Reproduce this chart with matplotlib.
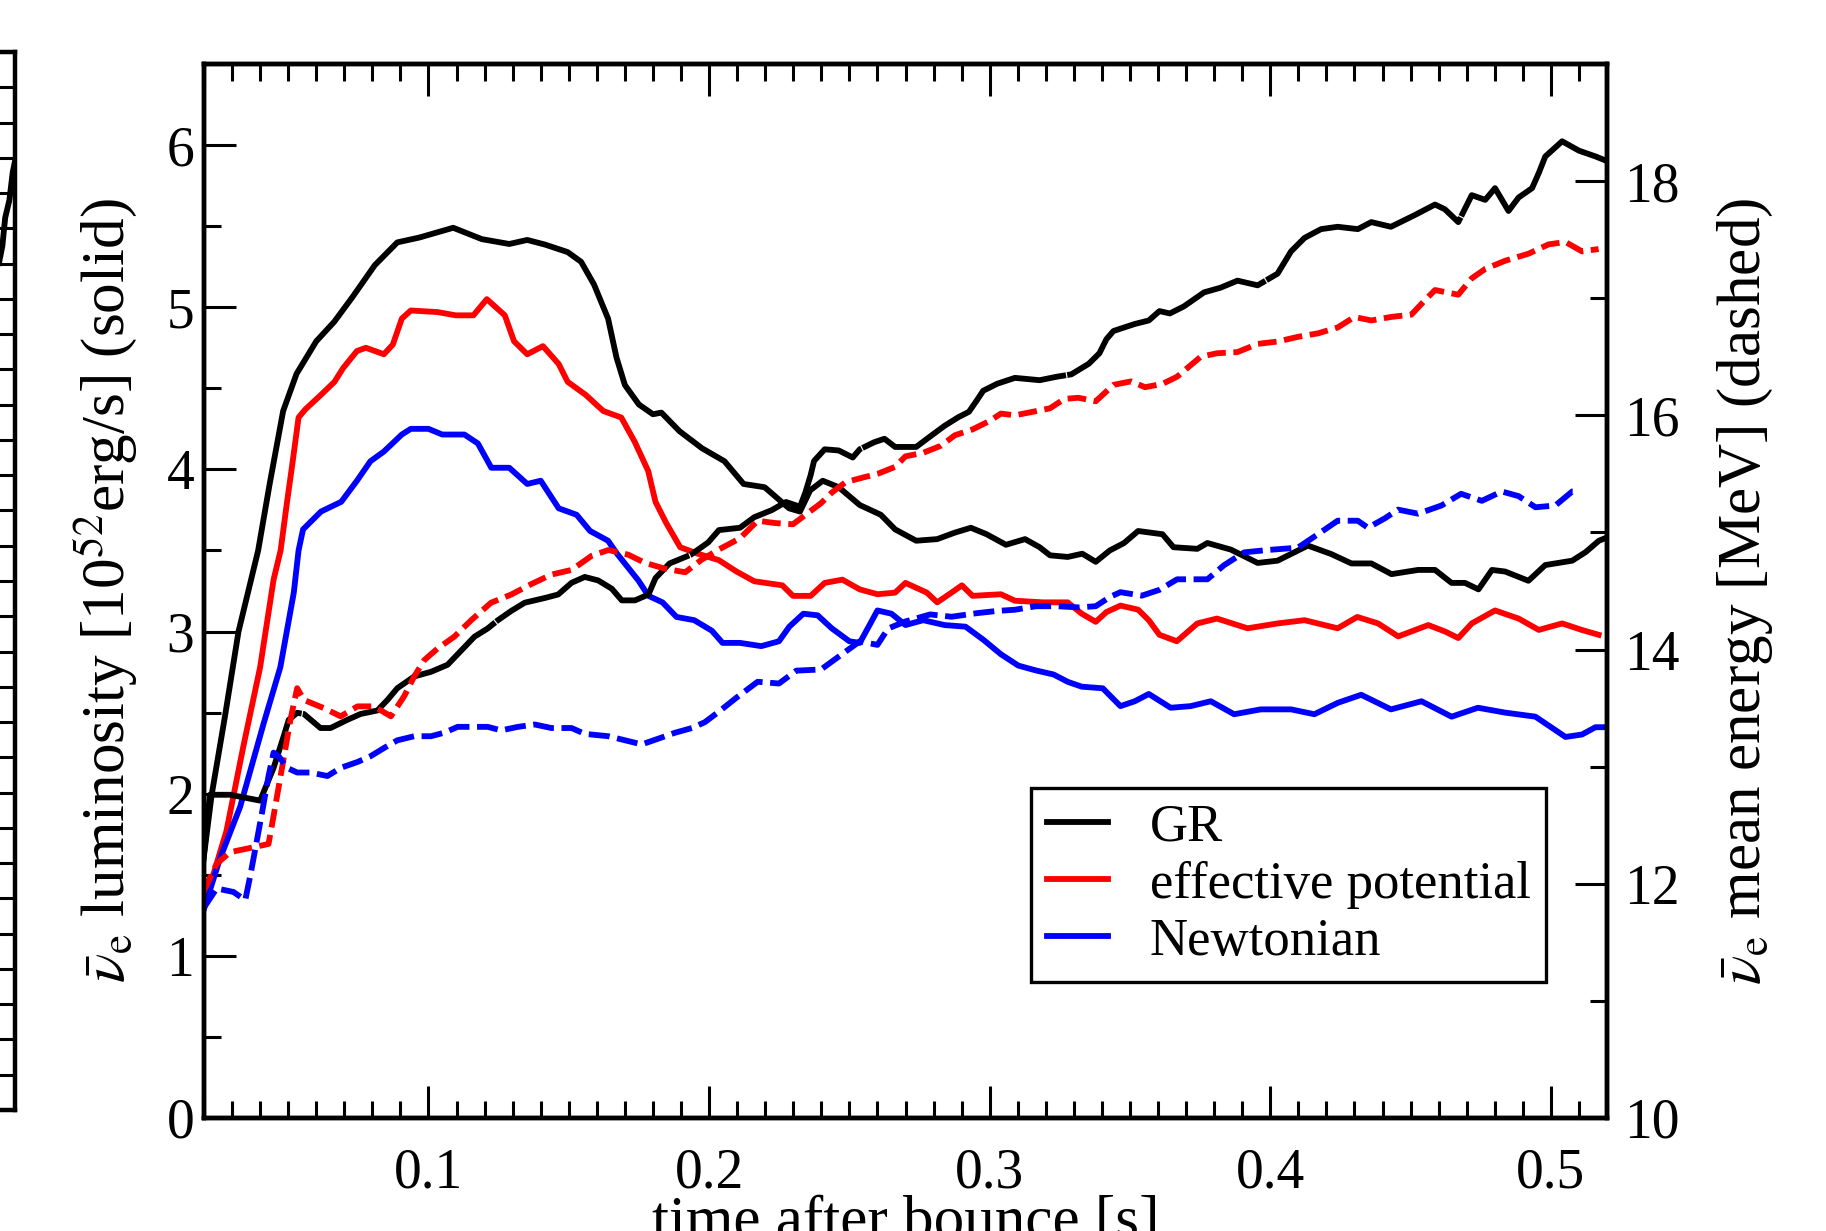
import numpy as np
import matplotlib
matplotlib.use("Agg")
import matplotlib.pyplot as plt
from matplotlib.ticker import MultipleLocator
from matplotlib.lines import Line2D

plt.rcParams['font.family'] = 'serif'
plt.rcParams['font.serif'] = ['Liberation Serif', 'DejaVu Serif']
plt.rcParams['mathtext.fontset'] = 'stix'

# --- GR run -------------------------------------------------------------
gr_lum_t = [0.0195, 0.0227, 0.0275, 0.0323, 0.0393, 0.0434, 0.0482, 0.0530, 0.0600, 0.0664,
            0.0728, 0.0809, 0.0889, 0.0968, 0.1088, 0.1190, 0.1288, 0.1352, 0.1416, 0.1496,
            0.1544, 0.1590, 0.1640, 0.1670, 0.1700, 0.1750, 0.1800, 0.1830, 0.1895, 0.1975,
            0.2055, 0.2123, 0.2198, 0.2285, 0.2324, 0.2360, 0.2405, 0.2462, 0.2537, 0.2612,
            0.2663, 0.2738, 0.2813, 0.2876, 0.2933, 0.2989, 0.3058, 0.3126, 0.3178, 0.3215,
            0.3278, 0.3330, 0.3378, 0.3428, 0.3479, 0.3529, 0.3616, 0.3655, 0.3740, 0.3776,
            0.3860, 0.3955, 0.4026, 0.4134, 0.4217, 0.4289, 0.4360, 0.4432, 0.4527, 0.4587,
            0.4646, 0.4694, 0.4742, 0.4790, 0.4837, 0.4920, 0.4980, 0.5076, 0.5124, 0.5171,
            0.5200]
gr_lum = [1.55, 1.99, 2.48, 3.00, 3.50, 3.91, 4.36, 4.59, 4.79, 4.91,
          5.06, 5.26, 5.40, 5.43, 5.49, 5.42, 5.39, 5.415, 5.386, 5.34,
          5.28, 5.14, 4.93, 4.69, 4.52, 4.40, 4.34, 4.35, 4.235, 4.13,
          4.05, 3.91, 3.89, 3.76, 3.74, 3.87, 3.93, 3.89, 3.78, 3.72,
          3.63, 3.56, 3.57, 3.61, 3.64, 3.60, 3.535, 3.57, 3.52, 3.47,
          3.46, 3.48, 3.43, 3.50, 3.546, 3.62, 3.60, 3.52, 3.51, 3.546,
          3.505, 3.423, 3.437, 3.53, 3.478, 3.42, 3.42, 3.354, 3.38, 3.38,
          3.30, 3.30, 3.26, 3.38, 3.37, 3.313, 3.41, 3.437, 3.49, 3.56,
          3.58]

gr_e_t = [0.0192, 0.0221, 0.0293, 0.0400, 0.0448, 0.0484, 0.0502, 0.0532, 0.0556, 0.0615,
          0.0651, 0.0711, 0.0758, 0.0818, 0.0854, 0.0889, 0.0949, 0.1009, 0.1068, 0.1116,
          0.1164, 0.1211, 0.1247, 0.1295, 0.1343, 0.1414, 0.1462, 0.1510, 0.1557, 0.1605,
          0.1653, 0.1689, 0.1736, 0.1784, 0.1809, 0.1859, 0.1935, 0.1997, 0.2035, 0.2110,
          0.2161, 0.2223, 0.2274, 0.2324, 0.2343, 0.2362, 0.2374, 0.2412, 0.2462, 0.2512,
          0.2537, 0.2588, 0.2625, 0.2663, 0.2738, 0.2788, 0.2839, 0.2889, 0.2926, 0.2952,
          0.2977, 0.3027, 0.3090, 0.3178, 0.3240, 0.3291, 0.3353, 0.3391, 0.3416, 0.3441,
          0.3517, 0.3567, 0.3605, 0.3642, 0.3692, 0.3764, 0.3823, 0.3883, 0.3955, 0.4026,
          0.4074, 0.4122, 0.4181, 0.4240, 0.4312, 0.4360, 0.4430, 0.4515, 0.4587, 0.4622,
          0.4670, 0.4718, 0.4766, 0.4801, 0.4849, 0.4885, 0.4933, 0.4957, 0.4980, 0.5040,
          0.5100, 0.5160, 0.5201]
gr_e = [12.07, 12.76, 12.76, 12.71, 12.99, 13.26, 13.40, 13.46, 13.45, 13.33,
        13.33, 13.40, 13.45, 13.48, 13.57, 13.67, 13.77, 13.81, 13.87, 13.99,
        14.11, 14.18, 14.25, 14.33, 14.40, 14.44, 14.47, 14.57, 14.62, 14.59,
        14.52, 14.42, 14.42, 14.47, 14.61, 14.735, 14.81, 14.915, 15.02, 15.04,
        15.13, 15.19, 15.26, 15.22, 15.34, 15.49, 15.61, 15.71, 15.70, 15.64,
        15.71, 15.77, 15.80, 15.73, 15.73, 15.82, 15.91, 15.985, 16.03, 16.12,
        16.21, 16.27, 16.32, 16.30, 16.33, 16.35, 16.44, 16.53, 16.65, 16.72,
        16.78, 16.81, 16.89, 16.87, 16.93, 17.05, 17.09, 17.15, 17.11, 17.21,
        17.40, 17.515, 17.59, 17.61, 17.59, 17.65, 17.61, 17.71, 17.80, 17.76,
        17.65, 17.88, 17.84, 17.94, 17.745, 17.86, 17.94, 18.07, 18.21, 18.34,
        18.26, 18.21, 18.17]

# --- effective potential run --------------------------------------------
ep_lum_t = [0.0198, 0.0233, 0.0280, 0.0340, 0.0400, 0.0448, 0.0473, 0.0496, 0.0513, 0.0537,
            0.0561, 0.0617, 0.0665, 0.0696, 0.0745, 0.0777, 0.0841, 0.0873, 0.0905, 0.0937,
            0.1033, 0.1097, 0.1160, 0.1208, 0.1272, 0.1305, 0.1352, 0.1408, 0.1464, 0.1496,
            0.1560, 0.1623, 0.1687, 0.1735, 0.1783, 0.1809, 0.1847, 0.1897, 0.1960, 0.2035,
            0.2098, 0.2161, 0.2261, 0.2299, 0.2362, 0.2412, 0.2475, 0.2537, 0.2600, 0.2663,
            0.2700, 0.2776, 0.2813, 0.2864, 0.2901, 0.2939, 0.3040, 0.3090, 0.3190, 0.3278,
            0.3328, 0.3378, 0.3416, 0.3466, 0.3529, 0.3567, 0.3605, 0.3667, 0.3740, 0.3810,
            0.3919, 0.4026, 0.4122, 0.4240, 0.4310, 0.4384, 0.4456, 0.4563, 0.4623, 0.4670,
            0.4718, 0.4801, 0.4885, 0.4957, 0.5040, 0.5110, 0.5170]
ep_lum = [1.43, 1.50, 1.77, 2.29, 2.78, 3.32, 3.50, 3.80, 4.01, 4.32,
          4.37, 4.46, 4.54, 4.625, 4.73, 4.75, 4.71, 4.77, 4.93, 4.98,
          4.97, 4.95, 4.95, 5.05, 4.95, 4.79, 4.71, 4.76, 4.65, 4.54,
          4.46, 4.36, 4.32, 4.17, 3.99, 3.80, 3.67, 3.52, 3.48, 3.44,
          3.37, 3.31, 3.285, 3.22, 3.22, 3.30, 3.32, 3.26, 3.23, 3.24,
          3.30, 3.24, 3.18, 3.24, 3.285, 3.22, 3.23, 3.19, 3.18, 3.18,
          3.11, 3.06, 3.12, 3.16, 3.135, 3.07, 2.98, 2.94, 3.05, 3.08,
          3.02, 3.05, 3.07, 3.02, 3.09, 3.05, 2.97, 3.04, 3.00, 2.96,
          3.05, 3.13, 3.08, 3.01, 3.05, 3.01, 2.98]

ep_e_t = [0.0198, 0.0245, 0.0293, 0.0353, 0.0430, 0.0448, 0.0478, 0.0508, 0.0532, 0.0556,
          0.0627, 0.0687, 0.0747, 0.0806, 0.0866, 0.0913, 0.0949, 0.0985, 0.1033, 0.1092,
          0.1152, 0.1223, 0.1295, 0.1367, 0.1438, 0.1510, 0.1581, 0.1641, 0.1712, 0.1772,
          0.1844, 0.1915, 0.1972, 0.2035, 0.2110, 0.2173, 0.2236, 0.2299, 0.2349, 0.2399,
          0.2437, 0.2487, 0.2550, 0.2600, 0.2663, 0.2700, 0.2763, 0.2826, 0.2876, 0.2939,
          0.3002, 0.3040, 0.3090, 0.3153, 0.3215, 0.3266, 0.3316, 0.3378, 0.3441, 0.3504,
          0.3554, 0.3617, 0.3668, 0.3752, 0.3810, 0.3883, 0.3955, 0.4026, 0.4098, 0.4170,
          0.4240, 0.4300, 0.4360, 0.4430, 0.4503, 0.4550, 0.4587, 0.4670, 0.4718, 0.4766,
          0.4837, 0.4920, 0.4992, 0.5052, 0.5111, 0.5170]
ep_e = [11.93, 12.17, 12.27, 12.30, 12.34, 12.58, 12.99, 13.40, 13.67, 13.57,
        13.50, 13.43, 13.515, 13.515, 13.43, 13.60, 13.77, 13.91, 14.01, 14.11,
        14.25, 14.40, 14.47, 14.56, 14.64, 14.68, 14.80, 14.85, 14.81, 14.74,
        14.69, 14.66, 14.765, 14.855, 14.95, 15.10, 15.08, 15.07, 15.16, 15.25,
        15.34, 15.43, 15.47, 15.50, 15.56, 15.65, 15.68, 15.74, 15.83, 15.88,
        15.955, 16.015, 16.00, 16.03, 16.06, 16.14, 16.15, 16.12, 16.26, 16.29,
        16.24, 16.27, 16.33, 16.50, 16.53, 16.54, 16.61, 16.63, 16.67, 16.70,
        16.75, 16.84, 16.81, 16.84, 16.86, 16.98, 17.07, 17.03, 17.17, 17.25,
        17.32, 17.38, 17.46, 17.48, 17.40, 17.42]

# --- Newtonian run ------------------------------------------------------
nt_lum_t = [0.0198, 0.0257, 0.0329, 0.0412, 0.0472, 0.0520, 0.0537, 0.0553, 0.0617, 0.0689,
            0.0745, 0.0793, 0.0841, 0.0905, 0.0937, 0.1000, 0.1049, 0.1128, 0.1176, 0.1224,
            0.1288, 0.1352, 0.1400, 0.1464, 0.1528, 0.1576, 0.1640, 0.1672, 0.1748, 0.1784,
            0.1834, 0.1884, 0.1947, 0.2010, 0.2048, 0.2110, 0.2186, 0.2249, 0.2286, 0.2336,
            0.2387, 0.2437, 0.2500, 0.2537, 0.2575, 0.2600, 0.2650, 0.2700, 0.2763, 0.2839,
            0.2914, 0.2977, 0.3040, 0.3102, 0.3165, 0.3228, 0.3278, 0.3328, 0.3403, 0.3466,
            0.3517, 0.3567, 0.3645, 0.3716, 0.3788, 0.3871, 0.3966, 0.4074, 0.4157, 0.4240,
            0.4324, 0.4430, 0.4539, 0.4646, 0.4740, 0.4837, 0.4945, 0.5052, 0.5111, 0.5159,
            0.5200]
nt_lum = [1.28, 1.60, 1.92, 2.43, 2.78, 3.24, 3.50, 3.63, 3.74, 3.80,
          3.93, 4.05, 4.11, 4.215, 4.25, 4.25, 4.215, 4.215, 4.16, 4.01,
          4.01, 3.91, 3.93, 3.76, 3.72, 3.62, 3.56, 3.48, 3.315, 3.22,
          3.18, 3.09, 3.07, 3.005, 2.93, 2.93, 2.91, 2.94, 3.03, 3.11,
          3.10, 3.02, 2.94, 2.93, 3.05, 3.13, 3.11, 3.04, 3.07, 3.04,
          3.03, 2.95, 2.86, 2.79, 2.76, 2.735, 2.69, 2.66, 2.65, 2.54,
          2.57, 2.615, 2.53, 2.54, 2.57, 2.49, 2.52, 2.52, 2.49, 2.56,
          2.61, 2.52, 2.57, 2.475, 2.53, 2.50, 2.475, 2.35, 2.365, 2.41,
          2.41]

nt_e_t = [0.0198, 0.0245, 0.0305, 0.0347, 0.0365, 0.0383, 0.0407, 0.0430, 0.0448, 0.0466,
          0.0496, 0.0532, 0.0580, 0.0640, 0.0687, 0.0747, 0.0794, 0.0842, 0.0889, 0.0949,
          0.1009, 0.1056, 0.1104, 0.1164, 0.1211, 0.1259, 0.1319, 0.1379, 0.1438, 0.1510,
          0.1557, 0.1641, 0.1701, 0.1760, 0.1820, 0.1879, 0.1939, 0.1985, 0.2035, 0.2098,
          0.2173, 0.2249, 0.2311, 0.2399, 0.2462, 0.2537, 0.2600, 0.2638, 0.2700, 0.2788,
          0.2864, 0.2952, 0.3027, 0.3090, 0.3165, 0.3240, 0.3316, 0.3378, 0.3429, 0.3466,
          0.3542, 0.3605, 0.3668, 0.3776, 0.3835, 0.3907, 0.3990, 0.4098, 0.4170, 0.4240,
          0.4312, 0.4348, 0.4408, 0.4455, 0.4527, 0.4610, 0.4680, 0.4754, 0.4825, 0.4885,
          0.4945, 0.5016, 0.5076, 0.5090]
nt_e = [11.79, 11.96, 11.93, 11.86, 12.07, 12.30, 12.61, 12.92, 13.12, 13.09,
        12.99, 12.95, 12.95, 12.92, 12.99, 13.04, 13.09, 13.16, 13.225, 13.26,
        13.26, 13.29, 13.34, 13.34, 13.34, 13.31, 13.34, 13.36, 13.33, 13.33,
        13.28, 13.26, 13.225, 13.19, 13.24, 13.29, 13.33, 13.38, 13.47, 13.59,
        13.725, 13.71, 13.82, 13.83, 13.94, 14.07, 14.04, 14.18, 14.24, 14.30,
        14.28, 14.31, 14.33, 14.34, 14.37, 14.37, 14.36, 14.37, 14.45, 14.49,
        14.46, 14.51, 14.60, 14.60, 14.72, 14.83, 14.85, 14.87, 14.985, 15.10,
        15.10, 15.04, 15.12, 15.195, 15.16, 15.23, 15.33, 15.27, 15.35, 15.31,
        15.215, 15.23, 15.35, 15.35]

# tail of the neighbouring panel that shows at the left edge
prev_t = [0.5140, 0.5155, 0.5165, 0.5180, 0.5192, 0.5200]
prev_y = [23.9, 24.5, 25.3, 25.8, 26.6, 26.9]

W, H = 1826, 1231
fig = plt.figure(figsize=(W / 100, H / 100), dpi=100)

LW = 4.2
TICK_FS = 40
LABEL_FS = 44

# neighbouring panel (only its right edge is inside the figure)
axp = fig.add_axes([15 / W - 1403 / W, 1 - 1110 / H, 1403 / W, (1110 - 52) / H])
axp.set_xlim(0.02, 0.52)
axp.set_ylim(0, 30)
axp.plot(prev_t, prev_y, color='black', lw=LW)
axp.yaxis.set_major_locator(MultipleLocator(1))
axp.tick_params(axis='y', left=False, right=True, labelleft=False, labelright=False,
                direction='in', length=14, width=2.2)
axp.tick_params(axis='x', bottom=False, labelbottom=False)
for s in axp.spines.values():
    s.set_linewidth(3.2)

# main panel
ax = fig.add_axes([204 / W, 1 - 1118 / H, 1403 / W, (1118 - 64) / H])
ax2 = ax.twinx()

ax.plot(gr_lum_t, gr_lum, color='black', lw=LW)
ax.plot(ep_lum_t, ep_lum, color='red', lw=LW)
ax.plot(nt_lum_t, nt_lum, color='blue', lw=LW)

ax2.plot(gr_e_t, gr_e, color='black', lw=LW, dashes=(40, 0.2))
ax2.plot(ep_e_t, ep_e, color='red', lw=LW, dashes=(3.2, 1.3))
ax2.plot(nt_e_t, nt_e, color='blue', lw=LW, dashes=(3.6, 1.3))

ax.set_xlim(0.02, 0.52)
ax.set_ylim(0, 6.5)
ax2.set_ylim(10, 19)

ax.xaxis.set_major_locator(MultipleLocator(0.1))
ax.xaxis.set_minor_locator(MultipleLocator(0.01))
ax.yaxis.set_major_locator(MultipleLocator(1))
ax.yaxis.set_minor_locator(MultipleLocator(0.5))
ax2.yaxis.set_major_locator(MultipleLocator(2))
ax2.yaxis.set_minor_locator(MultipleLocator(1))

ax.tick_params(which='both', direction='in', top=True, right=False, width=2.2,
               labelsize=TICK_FS)
ax.tick_params(which='major', length=23)
ax.tick_params(which='minor', length=12)
ax.tick_params(axis='x', which='major', pad=21)
ax.tick_params(axis='y', which='major', pad=7)
ax2.tick_params(which='both', direction='in', width=2.2, labelsize=TICK_FS)
ax2.tick_params(which='major', length=23, pad=12)
ax2.tick_params(which='minor', length=12)

ax.xaxis.set_major_formatter(matplotlib.ticker.FuncFormatter(lambda v, p: f'{v:.1f}'))

for s in ax.spines.values():
    s.set_linewidth(3.2)
for s in ax2.spines.values():
    s.set_linewidth(3.2)

ax.set_xlabel('time after bounce [s]', fontsize=LABEL_FS, labelpad=-3)
ax.set_ylabel(r'$\bar{\nu}_{\mathrm{e}}$ luminosity [10$^{52}$erg/s] (solid)',
              fontsize=LABEL_FS, labelpad=20)
ax2.set_ylabel(r'$\bar{\nu}_{\mathrm{e}}$ mean energy [MeV] (dashed)',
               fontsize=LABEL_FS, labelpad=26)

handles = [Line2D([], [], color='black', lw=LW),
           Line2D([], [], color='red', lw=LW),
           Line2D([], [], color='blue', lw=LW)]
leg = ax2.legend(handles, ['GR', 'effective potential', 'Newtonian'],
                 loc='upper left', bbox_to_anchor=(1031 / W, 1 - 788 / H),
                 bbox_transform=fig.transFigure, borderaxespad=0,
                 fontsize=38, frameon=True, fancybox=False, shadow=False,
                 borderpad=0.3, labelspacing=0.17, handlelength=1.15,
                 handletextpad=0.8)
leg.get_frame().set_edgecolor('black')
leg.get_frame().set_linewidth(2.4)
leg.get_frame().set_alpha(1)

fig.savefig('out.png', dpi=100)
